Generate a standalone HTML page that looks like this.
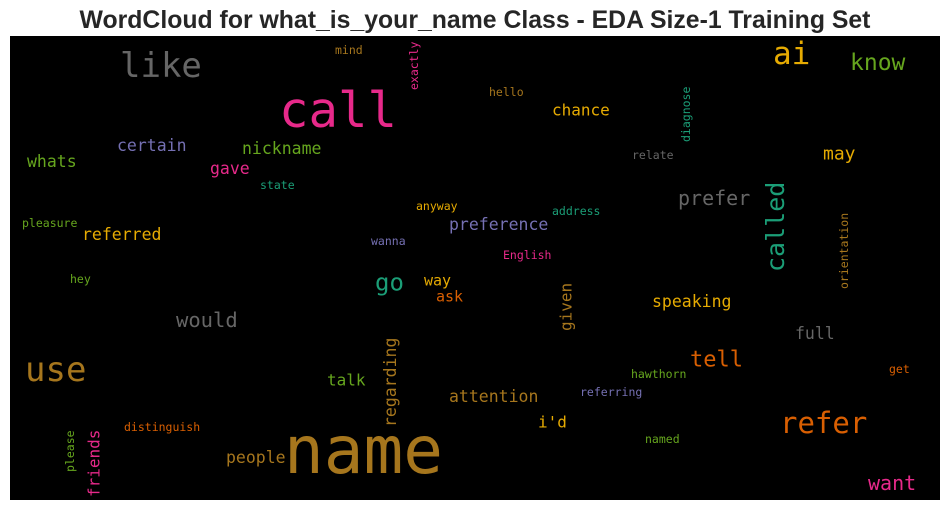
<!DOCTYPE html>
<html><head><meta charset="utf-8"><style>
html,body{margin:0;padding:0;background:#fff;width:950px;height:511px;overflow:hidden}
svg text{font-family:"DejaVu Sans Mono","Liberation Mono",monospace}
</style></head><body>
<svg id="c" width="950" height="511" xmlns="http://www.w3.org/2000/svg">
<text x="475" y="28" text-anchor="middle" style="font-family:'Liberation Sans',sans-serif;font-weight:bold;font-size:24.8px" fill="#262626">WordCloud for what_is_your_name Class - EDA Size-1 Training Set</text>
<rect x="10" y="36" width="930" height="464" fill="#000"/>
<g id="words"></g>
</svg>
<script>
const words=["call","name","like","ai","know","use","refer","called","prefer","go","tell","would","want","chance","may","nickname","certain","whats","gave","referred","preference","way","ask","speaking","full","talk","attention","i'd","people","given","regarding","friends","mind","exactly","hello","diagnose","relate","state","anyway","address","pleasure","wanna","English","orientation","hey","hawthorn","get","referring","distinguish","named","please"];
const sizes=[49,66,34,31,23,34,29,25,20,24,22,20.5,20,16,18,16.5,16.5,16.5,16.5,16.5,16.5,15,15,16.5,16.5,16,16.5,16,16.5,16,16.5,16,11.5,11.5,11.5,11.5,11.5,11.5,11.5,11.5,11.5,11.5,11.5,11.5,11.5,11.5,11.5,11.5,11.5,11.5,11.5];
const colors=["#e7298a","#a6761d","#666666","#e6ab02","#66a61e","#a6761d","#d95f02","#1b9e77","#666666","#1b9e77","#d95f02","#666666","#e7298a","#e6ab02","#e6ab02","#66a61e","#7570b3","#66a61e","#e7298a","#e6ab02","#7570b3","#e6ab02","#d95f02","#e6ab02","#666666","#66a61e","#a6761d","#e6ab02","#a6761d","#a6761d","#a6761d","#e7298a","#a6761d","#e7298a","#a6761d","#1b9e77","#666666","#1b9e77","#e6ab02","#1b9e77","#66a61e","#7570b3","#e7298a","#a6761d","#66a61e","#66a61e","#d95f02","#7570b3","#d95f02","#66a61e","#66a61e"];
// x = left (or center x for vertical), y = center (or bottom for vertical)
const xs=[279,284,120,773,850,25,780,775,678,375,690,176,868,552,823,242,117,27,210,82,449,424,436,652,795,327,449,538,226,566,390,94,335,414,489,686,632,260,416,552,22,371,503,844,70,631,889,580,124,645,70];
const ys=[110,450,65,53,62,369,423,272,198,282,359,320,483,110,153,148,145,161,168,234,224,280,296,301,333,380,396,422,457,331,427,497,50,90,92,142,155,185,206,211,223,241,255,289,279,374,369,392,427,439,472];
const rot=[0,0,0,0,0,0,0,1,0,0,0,0,0,0,0,0,0,0,0,0,0,0,0,0,0,0,0,0,0,1,1,1,0,1,0,1,0,0,0,0,0,0,0,1,0,0,0,0,0,0,1];
const g=document.getElementById('words');
const NS="http://www.w3.org/2000/svg";
words.forEach((w,i)=>{
  const t=document.createElementNS(NS,'text');
  
  
  t.setAttribute('font-size',sizes[i]);
  t.setAttribute('fill',colors[i]);
  t.textContent=w;
  const off=sizes[i]*0.35;
  if(rot[i]){
    t.setAttribute('transform','translate('+xs[i]+','+ys[i]+') rotate(-90)');
    t.setAttribute('x',0);t.setAttribute('y',off);
  }else{
    t.setAttribute('x',xs[i]);t.setAttribute('y',ys[i]+off);
  }
  g.appendChild(t);
});
</script>
</body></html>
